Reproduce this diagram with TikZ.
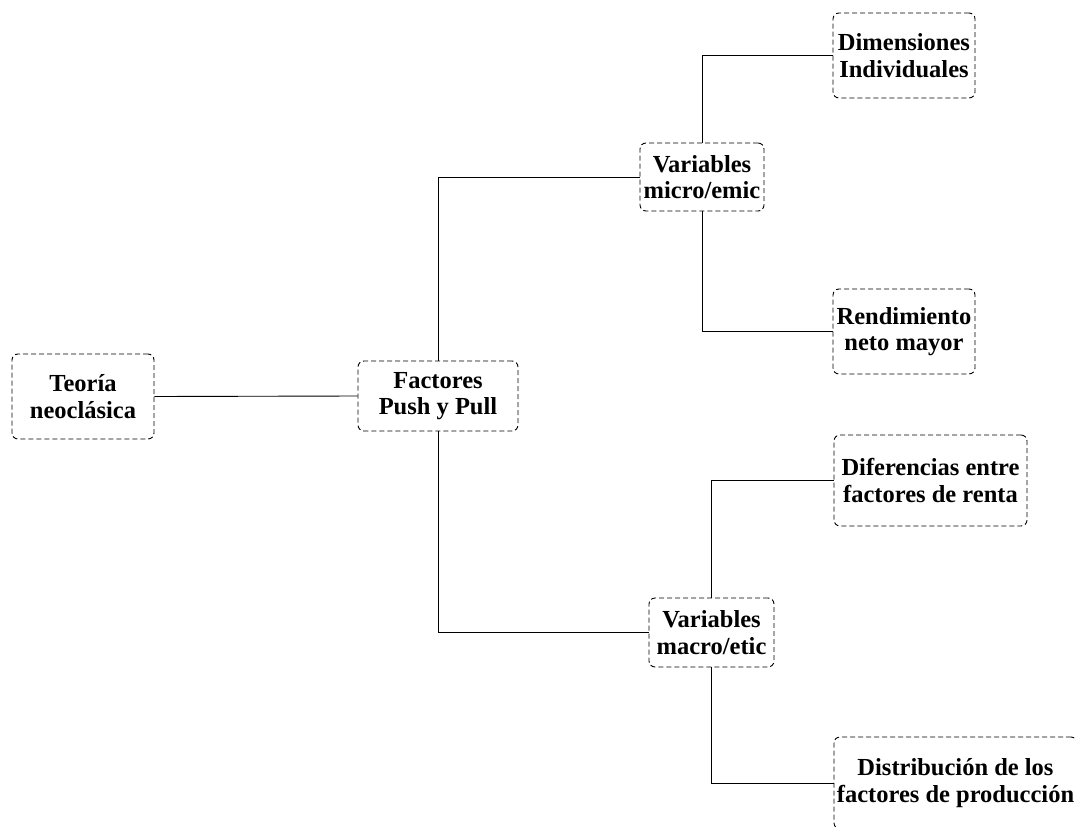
\documentclass[tikz,border=0pt]{standalone}
\usepackage{fontspec}
\setmainfont{Liberation Serif}
\usetikzlibrary{arrows}
\usetikzlibrary{arrows.meta}

\begin{document}
\begin{tikzpicture}[x=1pt,y=-1pt]
\tikzstyle{every node}=[font=\bfseries\fontsize{24.5}{26.5}\selectfont,align=center]
\tikzstyle{factorbox}=[draw,dashed,dash pattern=on 5pt off 3pt,rounded corners=6pt,line width=0.9pt,inner sep=0pt]
\tikzstyle{link}=[line width=0.9pt]
\useasboundingbox (0,0) rectangle (1076,827);
\node[factorbox,minimum width=142pt,minimum height=85pt] (teoria) at (83,396.5) {Teoría\\neoclásica};
\node[factorbox,minimum width=160pt,minimum height=70pt] (pushpull) at (438,396) {Factores\\Push y Pull};
\node[factorbox,minimum width=124pt,minimum height=68pt] (micro) at (702,177) {Variables\\micro/emic};
\node[factorbox,minimum width=125pt,minimum height=69pt] (macro) at (711.5,632.5) {Variables\\macro/etic};
\node[factorbox,minimum width=142pt,minimum height=85pt] (dimens) at (904,55.5) {Dimensiones\\Individuales};
\node[factorbox,minimum width=142pt,minimum height=85pt] (rendim) at (904,331.5) {Rendimiento\\neto mayor};
\node[factorbox,minimum width=193pt,minimum height=91pt] (difer) at (930.5,480.5) {Diferencias entre\\factores de renta};
\node[factorbox,minimum width=243pt,minimum height=92pt] (distrib) at (955.5,783) {Distribución de los\\factores de producción};
\draw[link] (teoria.east) -- (pushpull.west);
\draw[link] (pushpull.north) |- (micro.west);
\draw[link] (pushpull.south) |- (macro.west);
\draw[link] (micro.north) |- (dimens.west);
\draw[link] (micro.south) |- (rendim.west);
\draw[link] (macro.north) |- (difer.west);
\draw[link] (macro.south) |- (distrib.west);
\end{tikzpicture}
\end{document}
